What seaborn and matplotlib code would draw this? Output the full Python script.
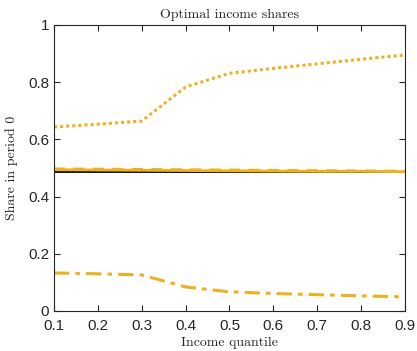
'''
Optimal income shares - line chart
'''

import matplotlib
matplotlib.use('Agg')
import matplotlib.pyplot as plt
import seaborn as sns
import pandas as pd

quantile = [0.1, 0.2, 0.3, 0.4, 0.5, 0.6, 0.7, 0.8, 0.9]
share_black = [0.486, 0.486, 0.486, 0.486, 0.486, 0.486, 0.486, 0.486, 0.486]
share_solid = [0.494, 0.493, 0.492, 0.491, 0.490, 0.489, 0.488, 0.488, 0.487]
share_dashed = [0.497, 0.496, 0.495, 0.494, 0.493, 0.492, 0.491, 0.490, 0.489]
share_dotted = [0.643, 0.653, 0.664, 0.783, 0.831, 0.848, 0.864, 0.880, 0.895]
share_dashdot = [0.133, 0.130, 0.126, 0.084, 0.067, 0.061, 0.057, 0.053, 0.049]

xticks = [0.1, 0.2, 0.3, 0.4, 0.5, 0.6, 0.7, 0.8, 0.9]
yticks = [0, 0.2, 0.4, 0.6, 0.8, 1]
ytick_labels = ['0', '0.2', '0.4', '0.6', '0.8', '1']

orange = '#EDB120'

sns.set_style('white')
plt.rcParams['font.family'] = ['Liberation Sans', 'DejaVu Sans']

df = pd.DataFrame({'q': quantile, 'black': share_black, 'solid': share_solid,
                   'dashed': share_dashed, 'dotted': share_dotted,
                   'dashdot': share_dashdot})

fig = plt.figure(figsize=(4.17, 3.51), dpi=100)
ax = fig.add_axes([0.1295, 0.114, 0.8415, 0.815])

sns.lineplot(x='q', y='black', data=df, ax=ax, color='black', linewidth=1.3)
sns.lineplot(x='q', y='solid', data=df, ax=ax, color=orange, linewidth=2.0)
sns.lineplot(x='q', y='dashed', data=df, ax=ax, color=orange, linewidth=2.0,
             linestyle=(0, (4, 3)))
sns.lineplot(x='q', y='dotted', data=df, ax=ax, color=orange, linewidth=2.2,
             linestyle=(0, (1, 1)))
sns.lineplot(x='q', y='dashdot', data=df, ax=ax, color=orange, linewidth=2.2,
             linestyle=(0, (5, 2, 1.5, 2)))

ax.set_xlim(0.1, 0.9)
ax.set_ylim(0, 1)
ax.set_xticks(xticks)
ax.set_xticklabels([f'{v:g}' for v in xticks])
ax.set_yticks(yticks)
ax.set_yticklabels(ytick_labels)

ax.tick_params(direction='in', length=4, width=0.8, colors='#262626',
               labelsize=11, top=True, right=True, bottom=True, left=True)
ax.tick_params(axis='x', pad=5.5)
for s in ax.spines.values():
    s.set_color('#262626')
    s.set_linewidth(0.8)

ax.set_title('Optimal income shares', fontfamily='cmr10', fontsize=10, pad=5)
ax.set_xlabel('Income quantile', fontfamily='cmr10', fontsize=10, labelpad=3)
ax.set_ylabel('Share in period 0', fontfamily='cmr10', fontsize=10, labelpad=7)

fig.savefig('out.png', dpi=100)
